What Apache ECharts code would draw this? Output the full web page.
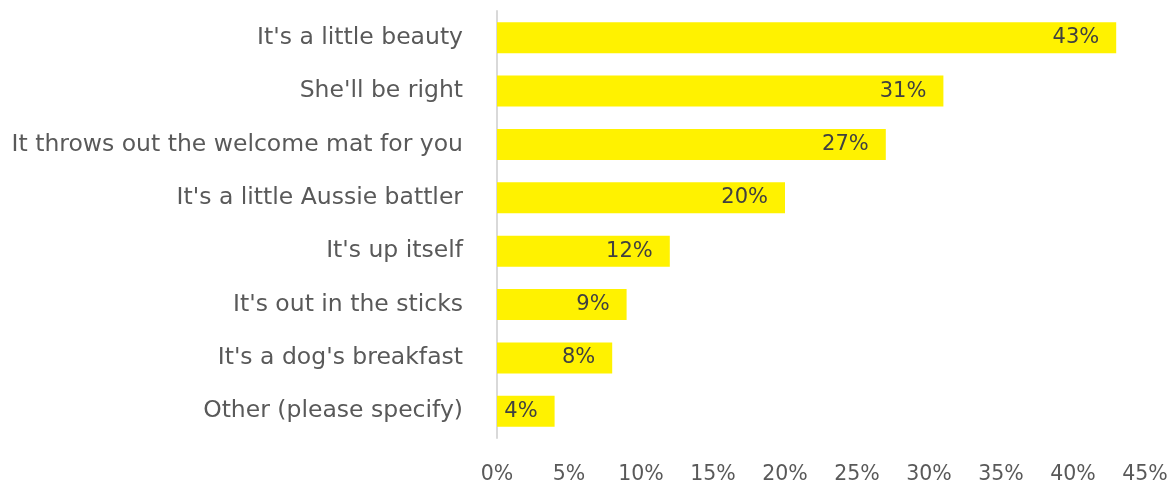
<!DOCTYPE html>
<html>
<head>
<meta charset="utf-8">
<script src="https://cdn.jsdelivr.net/npm/echarts@6/dist/echarts.min.js"></script>
<style>
  html, body { margin: 0; padding: 0; background: #fff; }
  #chart { width: 1176px; height: 489px; }
</style>
</head>
<body>
<div id="chart"></div>
<script>
// Survey responses, listed top to bottom
const categories = [
  "It's a little beauty",
  "She'll be right",
  "It throws out the welcome mat for you",
  "It's a little Aussie battler",
  "It's up itself",
  "It's out in the sticks",
  "It's a dog's breakfast",
  "Other (please specify)"
];
// Share of respondents, percent
const shares = [43, 31, 27, 20, 12, 9, 8, 4];
// X axis range and step, percent
const axisMax = 45;
const axisStep = 5;

const FONT = "'DejaVu Sans', sans-serif";

const chart = echarts.init(document.getElementById('chart'), null, { renderer: 'canvas' });
chart.setOption({
  animation: false,
  grid: { left: 497, right: 31, top: 11, bottom: 51, containLabel: false },
  xAxis: {
    type: 'value',
    min: 0,
    max: axisMax,
    interval: axisStep,
    axisLine: { show: false },
    axisTick: { show: false },
    splitLine: { show: false },
    axisLabel: {
      formatter: v => v + '%',
      color: '#595959',
      fontFamily: FONT,
      fontSize: 20.5,
      margin: 26
    }
  },
  yAxis: {
    type: 'category',
    data: categories,
    inverse: true,
    axisLine: { show: true, lineStyle: { color: '#d9d9d9', width: 2 } },
    axisTick: { show: false },
    axisLabel: {
      color: '#595959',
      fontFamily: FONT,
      fontSize: 23.5,
      margin: 34
    }
  },
  series: [{
    type: 'bar',
    data: shares,
    barWidth: '58%',
    itemStyle: { color: '#FFF200' },
    label: {
      show: true,
      position: 'insideRight',
      distance: 17,
      formatter: p => p.value + '%',
      color: '#404040',
      fontFamily: FONT,
      fontSize: 21
    }
  }]
});
</script>
</body>
</html>
